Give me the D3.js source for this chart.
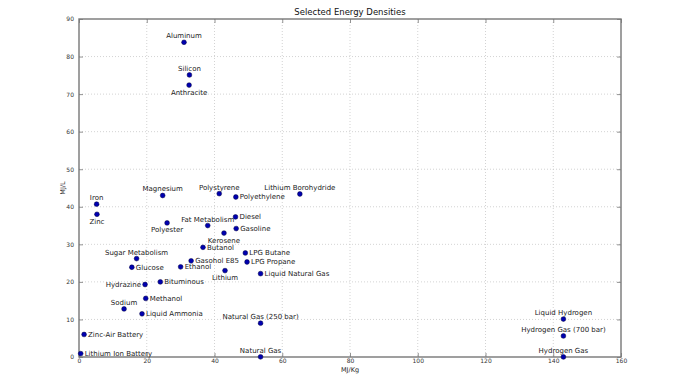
<!DOCTYPE html>
<html>
<head>
<meta charset="utf-8">
<script src="https://cdn.jsdelivr.net/npm/d3@7"></script>
<style>
  html, body { margin: 0; padding: 0; background: #fff; }
  svg text { font-family: "DejaVu Sans", sans-serif; }
</style>
</head>
<body>
<div id="chart"></div>
<script>
// Materials and their energy densities
const materials = [
    'Aluminum', 'Silicon', 'Anthracite', 'Magnesium', 'Polystyrene', 'Polyethylene',
    'Lithium Borohydride', 'Iron', 'Zinc', 'Polyester', 'Fat Metabolism', 'Diesel',
    'Gasoline', 'Kerosene', 'Butanol', 'LPG Butane', 'LPG Propane', 'Liquid Natural Gas',
    'Gasohol E85', 'Ethanol', 'Lithium', 'Sugar Metabolism', 'Glucose', 'Hydrazine',
    'Bituminous', 'Methanol', 'Sodium', 'Liquid Ammonia', 'Natural Gas (250 bar)',
    'Zinc-Air Battery', 'Lithium Ion Battery', 'Natural Gas', 'Liquid Hydrogen',
    'Hydrogen Gas (700 bar)', 'Hydrogen Gas'
];
const mjPerKg = [
    31.0, 32.6, 32.5, 24.7, 41.4, 46.3,
    65.2, 5.2, 5.3, 26.0, 38.0, 46.2,
    46.4, 42.8, 36.6, 49.1, 49.6, 53.6,
    33.1, 30.0, 43.1, 17.0, 15.6, 19.5,
    24.0, 19.7, 13.3, 18.6, 53.6,
    1.5, 0.5, 53.6, 143.0,
    143.0, 143.0
];
const mjPerL = [
    83.8, 75.1, 72.4, 43.0, 43.5, 42.6,
    43.4, 40.7, 38.0, 35.7, 35.0, 37.3,
    34.2, 33.0, 29.2, 27.7, 25.3, 22.2,
    25.6, 24.0, 23.0, 26.2, 23.9, 19.3,
    20.0, 15.6, 12.8, 11.5, 9.0,
    6.0, 0.9, 0.04, 10.1,
    5.6, 0.01
];
// where each label sits relative to its point
const labelSide = [
    'above', 'above', 'below', 'above', 'above', 'right',
    'above', 'above', 'below', 'below', 'above', 'right',
    'right', 'below', 'right', 'right', 'right', 'right',
    'right', 'right', 'below', 'above', 'right', 'left',
    'right', 'right', 'above', 'right', 'above',
    'right', 'right', 'above', 'above',
    'above', 'above'
];
const xTicks = [0, 20, 40, 60, 80, 100, 120, 140, 160];
const yTicks = [0, 10, 20, 30, 40, 50, 60, 70, 80, 90];

const data = materials.map((name, i) => ({
    name: name,
    x: mjPerKg[i],
    y: mjPerL[i],
    side: labelSide[i]
}));

const width = 700;
const height = 376;
const margin = { top: 19, right: 79, bottom: 19, left: 79 };
const innerWidth = width - margin.left - margin.right;
const innerHeight = height - margin.top - margin.bottom;

const svg = d3.select('#chart')
    .append('svg')
    .attr('width', width)
    .attr('height', height);

const chart = svg.append('g')
    .attr('transform', `translate(${margin.left}, ${margin.top})`);

const xScale = d3.scaleLinear().domain([0, 160]).range([0, innerWidth]);
const yScale = d3.scaleLinear().domain([0, 90]).range([innerHeight, 0]);

// dotted grid
chart.append('g')
    .selectAll('line')
    .data(xTicks.slice(1, -1))
    .enter()
    .append('line')
    .attr('x1', d => xScale(d)).attr('x2', d => xScale(d))
    .attr('y1', 0).attr('y2', innerHeight)
    .attr('stroke', '#c8c8c8')
    .attr('stroke-width', 0.8)
    .attr('stroke-dasharray', '1,2');

chart.append('g')
    .selectAll('line')
    .data(yTicks.slice(1, -1))
    .enter()
    .append('line')
    .attr('y1', d => yScale(d)).attr('y2', d => yScale(d))
    .attr('x1', 0).attr('x2', innerWidth)
    .attr('stroke', '#c8c8c8')
    .attr('stroke-width', 0.8)
    .attr('stroke-dasharray', '1,2');

// axes, matplotlib style ticks pointing inward
const xAxis = d3.axisBottom(xScale).tickValues(xTicks).tickSizeInner(-4).tickSizeOuter(0).tickPadding(2);
const yAxis = d3.axisLeft(yScale).tickValues(yTicks).tickSizeInner(-4).tickSizeOuter(0).tickPadding(5);

chart.append('g')
    .attr('transform', `translate(0, ${innerHeight})`)
    .call(xAxis);
chart.append('g').call(yAxis);

chart.append('g')
    .call(d3.axisTop(xScale).tickValues(xTicks).tickSizeInner(-4).tickSizeOuter(0).tickFormat(''));
chart.append('g')
    .attr('transform', `translate(${innerWidth}, 0)`)
    .call(d3.axisRight(yScale).tickValues(yTicks).tickSizeInner(-4).tickSizeOuter(0).tickFormat(''));

chart.selectAll('.domain').remove();
chart.selectAll('.tick line').attr('stroke', '#777').attr('stroke-width', 0.8);
chart.selectAll('.tick text')
    .attr('fill', '#333')
    .style('font-size', '6px')
    .style('font-family', '"DejaVu Sans", sans-serif');

// frame
chart.append('rect')
    .attr('width', innerWidth)
    .attr('height', innerHeight)
    .attr('fill', 'none')
    .attr('stroke', '#777')
    .attr('stroke-width', 1.4);

// points
chart.selectAll('.dot')
    .data(data)
    .enter()
    .append('circle')
    .attr('class', 'dot')
    .attr('cx', d => xScale(d.x))
    .attr('cy', d => yScale(d.y))
    .attr('r', 2.4)
    .attr('fill', '#0000b0')
    .attr('stroke', '#000040')
    .attr('stroke-width', 0.5);

// labels
chart.selectAll('.lbl')
    .data(data)
    .enter()
    .append('text')
    .attr('class', 'lbl')
    .attr('x', d => {
        const px = xScale(d.x);
        if (d.side === 'right') return px + 4;
        if (d.side === 'left') return px - 4;
        return px;
    })
    .attr('y', d => {
        const py = yScale(d.y);
        if (d.side === 'above') return py - 6.5;
        if (d.side === 'below') return py + 7;
        return py;
    })
    .attr('dy', '0.35em')
    .attr('text-anchor', d => d.side === 'right' ? 'start' : d.side === 'left' ? 'end' : 'middle')
    .attr('fill', '#222')
    .style('font-size', '7px')
    .text(d => d.name);

// title and axis labels
svg.append('text')
    .attr('x', margin.left + innerWidth / 2)
    .attr('y', 12.5)
    .attr('dy', '0.35em')
    .attr('text-anchor', 'middle')
    .attr('fill', '#111')
    .style('font-size', '8.5px')
    .text('Selected Energy Densities');

svg.append('text')
    .attr('x', margin.left + innerWidth / 2)
    .attr('y', 370)
    .attr('dy', '0.35em')
    .attr('text-anchor', 'middle')
    .attr('fill', '#222')
    .style('font-size', '6.5px')
    .text('MJ/Kg');

svg.append('text')
    .attr('transform', 'rotate(-90)')
    .attr('x', -(margin.top + innerHeight / 2))
    .attr('y', 63)
    .attr('dy', '0.35em')
    .attr('text-anchor', 'middle')
    .attr('fill', '#222')
    .style('font-size', '6.5px')
    .text('MJ/L');
</script>
</body>
</html>
